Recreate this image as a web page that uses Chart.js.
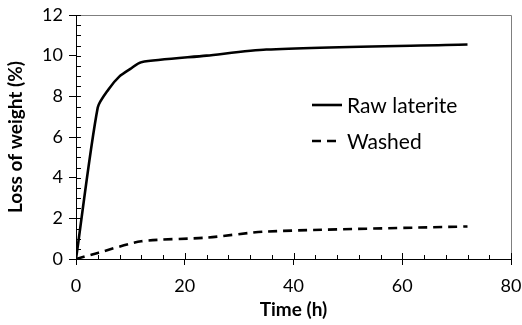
<!DOCTYPE html>
<html>
<head>
<meta charset="utf-8">
<script src="https://cdn.jsdelivr.net/npm/chart.js@4"></script>
<style>
  html, body { margin: 0; padding: 0; background: #fff; }
  #wrap { width: 522px; height: 325px; }
</style>
</head>
<body>
<div id="wrap"><canvas id="line_chart" width="522" height="325"></canvas></div>
<script>
// data
var rawTime   = [0, 4, 6, 8, 10, 12, 24, 35, 72];
var rawLoss   = [0, 7.45, 8.35, 8.98, 9.35, 9.68, 10.0, 10.3, 10.55];
var washTime  = [0, 4, 12, 24, 35, 72];
var washLoss  = [0, 0.3, 0.87, 1.05, 1.35, 1.6];
var seriesNames = ["Raw laterite", "Washed"];
var xTicks = [0, 20, 40, 60, 80];
var yTicks = [0, 2, 4, 6, 8, 10, 12];

var FONT = "Lato, 'Open Sans', sans-serif";

function toPoints(xs, ys) {
  var pts = [];
  for (var i = 0; i < xs.length; i++) pts.push({ x: xs[i], y: ys[i] });
  return pts;
}

// frame + inner minor ticks + legend inside the plot
var framePlugin = {
  id: 'frame',
  afterDatasetsDraw: function(chart) {
    var ctx = chart.ctx, a = chart.chartArea;
    var xs = chart.scales.x, ys = chart.scales.y;
    ctx.save();
    ctx.strokeStyle = '#7f7f7f';
    ctx.lineWidth = 1;
    ctx.beginPath();
    ctx.moveTo(a.left, a.top + 0.5);
    ctx.lineTo(a.right + 0.5, a.top + 0.5);
    ctx.lineTo(a.right + 0.5, a.bottom);
    ctx.stroke();

    ctx.strokeStyle = '#000';
    ctx.beginPath();
    // axes
    ctx.moveTo(a.left + 0.5, a.top);
    ctx.lineTo(a.left + 0.5, a.bottom);
    ctx.moveTo(a.left, a.bottom + 0.5);
    ctx.lineTo(a.right + 1, a.bottom + 0.5);
    // x ticks inside
    for (var v = 0; v <= 80; v += 4) {
      var px = Math.round(xs.getPixelForValue(v)) + 0.5;
      var len = (v % 20 === 0) ? 6 : 4;
      ctx.moveTo(px, a.bottom);
      ctx.lineTo(px, a.bottom - len);
    }
    // y ticks inside
    for (var w = 0; w <= 12; w += 0.5) {
      var py = Math.round(ys.getPixelForValue(w)) + 0.5;
      ctx.moveTo(a.left, py);
      ctx.lineTo(a.left + 5, py);
    }
    ctx.stroke();

    // legend
    var lx = 312, ly = 105, gap = 36;
    chart.data.datasets.forEach(function(ds, i) {
      var y = ly + i * gap;
      ctx.strokeStyle = ds.borderColor;
      ctx.lineWidth = ds.borderWidth;
      ctx.setLineDash(ds.borderDash || []);
      ctx.beginPath();
      ctx.moveTo(lx, y);
      ctx.lineTo(lx + 30, y);
      ctx.stroke();
      ctx.setLineDash([]);
      ctx.fillStyle = '#000';
      ctx.font = '21px ' + FONT;
      ctx.textBaseline = 'middle';
      ctx.fillText(ds.label, lx + 35, y + 1);
    });
    ctx.restore();
  }
};

new Chart(document.getElementById("line_chart"), {
  type: 'line',
  data: {
    datasets: [
      {
        label: seriesNames[0],
        data: toPoints(rawTime, rawLoss),
        borderColor: '#000',
        borderWidth: 2.6,
        pointRadius: 0,
        tension: 0.25,
        fill: false
      },
      {
        label: seriesNames[1],
        data: toPoints(washTime, washLoss),
        borderColor: '#000',
        borderWidth: 2.6,
        borderDash: [9, 6],
        pointRadius: 0,
        tension: 0.25,
        fill: false
      }
    ]
  },
  plugins: [framePlugin],
  options: {
    responsive: false,
    animation: false,
    layout: { padding: { top: 15, right: 11, left: 0, bottom: 0 } },
    plugins: {
      legend: { display: false },
      tooltip: { enabled: false }
    },
    scales: {
      x: {
        type: 'linear',
        min: 0, max: 80,
        afterBuildTicks: function(s) { s.ticks = xTicks.map(function(v) { return { value: v }; }); },
        afterFit: function(s) { s.height = 66; s.paddingLeft = 0; s.paddingRight = 0; },
        border: { display: false },
        grid: { drawOnChartArea: false, color: '#000', tickLength: 6 },
        ticks: { color: '#000', font: { family: FONT, size: 18 }, padding: 10, maxRotation: 0 },
        title: { display: true, text: 'Time (h)', color: '#000', font: { family: FONT, size: 19, weight: 'bold' }, padding: { top: 0 } }
      },
      y: {
        min: 0, max: 12,
        afterBuildTicks: function(s) { s.ticks = yTicks.map(function(v) { return { value: v }; }); },
        afterFit: function(s) { s.width = 76; s.paddingTop = 0; s.paddingBottom = 0; },
        border: { display: false },
        grid: { drawOnChartArea: false, color: '#000', tickLength: 7 },
        ticks: { color: '#000', font: { family: FONT, size: 18 }, padding: 6 },
        title: { display: true, text: 'Loss of weight (%)', color: '#000', font: { family: FONT, size: 19, weight: 'bold' }, padding: { bottom: 0 } }
      }
    }
  }
});
</script>
</body>
</html>
